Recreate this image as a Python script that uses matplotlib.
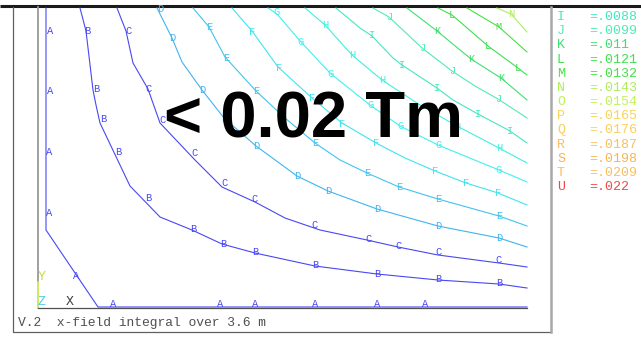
import matplotlib
matplotlib.use("Agg")
import matplotlib.pyplot as plt

# contour levels (field integral, Tm) and their display colours
letters = ['A', 'B', 'C', 'D', 'E', 'F', 'G', 'H', 'I', 'J', 'K',
           'L', 'M', 'N', 'O', 'P', 'Q', 'R', 'S', 'T', 'U']
values = ['0', '.0011', '.0022', '.0033', '.0044', '.0055', '.0066', '.0077',
          '.0088', '.0099', '.011', '.0121', '.0132', '.0143', '.0154',
          '.0165', '.0176', '.0187', '.0198', '.0209', '.022']
colors = ['#4848f4', '#4848f4', '#4848f4', '#40b4f0', '#40c4f0', '#40e4f0',
          '#40f0f0', '#40f0e0', '#44e8c0', '#50ecb4', '#40e070', '#40e050',
          '#48e048', '#b0ec60', '#c4f060', '#f8d458', '#f8d060', '#f8c060',
          '#f8b458', '#f8c060', '#f04848']
legend_from = 'I'

# traced iso-lines, screen units (x right, y down)
paths = {
    'A': [(46, 8), (46, 230), (98, 307), (527, 307)],
    'B': [(80, 8), (86, 31), (93, 90), (96, 105), (100, 123), (130, 186),
          (160, 217), (192, 230), (222, 244), (255, 253), (315, 266),
          (377, 274), (438, 280), (499, 284), (527, 288)],
    'C': [(117, 8), (126, 31), (133, 63), (148, 89), (160, 123), (195, 160),
          (222, 187), (255, 202), (285, 218), (320, 230), (367, 240),
          (398, 247), (438, 255), (499, 263), (527, 267)],
    'D': [(157, 8), (172, 38), (182, 62), (202, 90), (224, 118), (256, 146),
          (297, 176), (328, 191), (377, 209), (438, 226), (499, 238),
          (527, 247)],
    'E': [(193, 8), (209, 27), (225, 57), (256, 91), (285, 118), (315, 143),
          (340, 160), (367, 173), (399, 187), (438, 199), (499, 216),
          (527, 226)],
    'F': [(232, 8), (252, 31), (278, 67), (312, 98), (342, 123), (376, 143),
          (405, 158), (435, 171), (466, 183), (498, 193), (527, 205)],
    'G': [(268, 8), (277, 14), (301, 42), (331, 74), (370, 105), (400, 126),
          (438, 145), (499, 170), (527, 182)],
    'H': [(305, 8), (325, 25), (352, 55), (382, 80), (420, 105), (457, 126),
          (499, 148), (527, 163)],
    'I': [(336, 8), (360, 28), (372, 36), (393, 58), (402, 65), (437, 88),
          (453, 100), (478, 114), (510, 131), (527, 143)],
    'J': [(373, 8), (389, 17), (422, 48), (452, 71), (475, 86), (498, 99),
          (527, 118)],
    'K': [(407, 8), (437, 31), (471, 59), (501, 78), (527, 100)],
    'L': [(438, 8), (452, 15), (488, 46), (518, 68), (527, 75)],
    'M': [(467, 8), (499, 27), (527, 52)],
    'N': [(497, 8), (511, 14), (527, 32)],
}

labels = {
    'A': [(50, 31), (50, 91), (49, 152), (49, 213), (76, 276), (113, 304),
          (220, 304), (255, 304), (315, 304), (377, 304), (425, 304)],
    'B': [(87, 31), (96, 89), (103, 119), (118, 152), (148, 198), (193, 229),
          (223, 244), (255, 252), (315, 265), (377, 274), (438, 279),
          (499, 283)],
    'C': [(128, 31), (149, 89), (163, 120), (195, 153), (224, 183),
          (255, 199), (315, 225), (368, 239), (398, 246), (438, 252),
          (499, 260)],
    'D': [(160, 9), (172, 38), (202, 90), (224, 119), (256, 146), (297, 176),
          (328, 191), (377, 209), (438, 226), (499, 238)],
    'E': [(209, 27), (226, 58), (256, 91), (315, 143), (367, 173), (399, 187),
          (438, 199), (499, 216)],
    'F': [(252, 32), (279, 68), (312, 98), (342, 124), (376, 143), (435, 171),
          (466, 183), (498, 193)],
    'G': [(277, 12), (301, 42), (331, 74), (370, 105), (400, 126), (438, 145),
          (499, 170)],
    'H': [(325, 25), (352, 55), (382, 80), (457, 127), (499, 148)],
    'I': [(372, 35), (402, 65), (437, 88), (478, 114), (510, 131)],
    'J': [(389, 17), (422, 48), (452, 71), (498, 99)],
    'K': [(437, 31), (471, 59), (501, 78)],
    'L': [(452, 15), (488, 46), (518, 68)],
    'M': [(499, 27)],
    'N': [(511, 14)],
}

mono = 'Liberation Mono'
fig = plt.figure(figsize=(6.41, 3.53), dpi=100)
ax = fig.add_axes([0, 0, 1, 1])
ax.set_xlim(0, 641)
ax.set_ylim(353, 0)
ax.axis('off')

col = dict(zip(letters, colors))

# window frame
ax.plot([0, 641], [6, 6], color='#1a1a1a', lw=2.2, solid_capstyle='butt')
ax.plot([13, 13, 551], [7, 332, 332], color='#606060', lw=0.9)
ax.plot([551, 551], [7, 332], color='#a8a8a8', lw=1.8)

# iso-lines and their letter tags
for key, pts in paths.items():
    xs = [p[0] for p in pts]
    ys = [p[1] for p in pts]
    ax.plot(xs, ys, color=col[key], lw=0.8)
for key, pts in labels.items():
    for x, y in pts:
        ax.text(x, y, key, color=col[key], fontsize=7.5, family=mono,
                ha='center', va='center')

# model axes
ax.plot([37.7, 37.7], [7, 282], color='#999999', lw=1.3)
ax.plot([37.7, 37.7], [282, 307.5], color='#c8e850', lw=1.3)
ax.plot([37.7, 527], [307.5, 307.5], color='#505050', lw=0.9)
ax.text(42, 277, 'Y', color='#c0e040', fontsize=9.5, family=mono,
        ha='center', va='center')
ax.text(42, 302, 'Z', color='#50c8f0', fontsize=9.5, family=mono,
        ha='center', va='center')
ax.text(70, 302, 'X', color='#404040', fontsize=9.5, family=mono,
        ha='center', va='center')

# level legend
start = letters.index(legend_from)
for i, key in enumerate(letters[start:]):
    y = 17 + i * 14.17
    ax.text(557, y, key, color=col[key], fontsize=9.6, family=mono,
            ha='left', va='center')
    ax.text(589, y, '=' + values[start + i], color=col[key], fontsize=9.6,
            family=mono, ha='left', va='center')

ax.text(18, 323, 'V.2  x-field integral over 3.6 m', color='#505050',
        fontsize=9.4, family=mono, ha='left', va='center')

ax.text(314, 138, '< 0.02 Tm', color='black', fontsize=47,
        family='Liberation Sans', weight='bold', ha='center', va='baseline')

fig.savefig('out.png', dpi=100)
